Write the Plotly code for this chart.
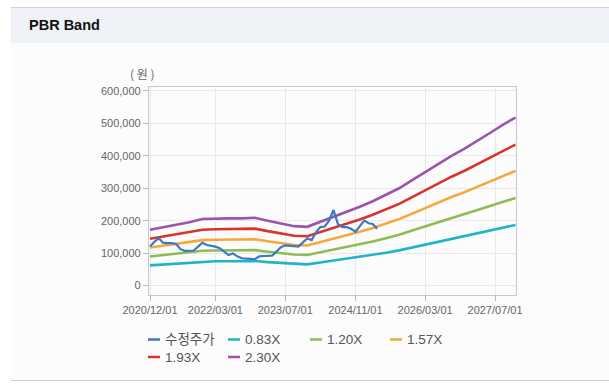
import plotly.graph_objects as go
import pandas as pd

# ---------------- data ----------------
band_dates = [
    "2020-12-01", "2021-03-01", "2021-06-01", "2021-09-01", "2021-12-01",
    "2022-03-01", "2022-06-01", "2022-09-01", "2022-12-01",
    "2023-03-01", "2023-06-01", "2023-09-01", "2023-12-01",
    "2024-03-01", "2024-06-01", "2024-09-01", "2024-12-01",
    "2025-03-01", "2025-06-01", "2025-09-01", "2025-12-01",
    "2026-03-01", "2026-06-01", "2026-09-01", "2026-12-01",
    "2027-03-01", "2027-06-01", "2027-09-01", "2027-11-20",
]
band_083 = [62100, 65000, 67100, 70400, 74000, 74700, 74700, 74700, 75400, 72200, 69300, 66000, 65300,
            70700, 76500, 82300, 87700, 93800, 101000, 108300, 117300, 126300, 135300, 144400, 152300,
            161000, 170300, 179700, 186900]
band_120 = [89700, 93900, 97000, 101700, 107000, 108000, 108000, 108000, 109000, 104300, 100200, 95500, 94400,
            102300, 110600, 118900, 126800, 135600, 146100, 156500, 169600, 182600, 195600, 208700, 220200,
            232700, 246200, 259800, 270200]
band_157 = [117400, 122900, 127000, 133100, 139900, 141300, 141300, 141300, 142700, 136500, 131100, 124900, 123600,
            133800, 144700, 155600, 165900, 177500, 191100, 204800, 221800, 238900, 256000, 273000, 288100,
            304400, 322200, 339900, 353600]
band_193 = [144300, 151000, 156100, 163600, 172000, 173700, 173700, 173700, 175400, 167800, 161100, 153600, 151900,
            164500, 177900, 191300, 203900, 218200, 234900, 251700, 272700, 293700, 314700, 335600, 354100,
            374200, 396100, 417900, 434700]
band_230 = [172000, 180000, 186000, 195000, 205000, 207000, 207000, 207000, 209000, 200000, 192000, 183000, 181000,
            196000, 212000, 228000, 243000, 260000, 280000, 300000, 325000, 350000, 375000, 400000, 422000,
            446000, 472000, 498000, 518000]

price = [120000, 135000, 146000, 132000, 131000, 131000, 128000, 112000, 107000, 107000, 108000, 120000,
         132000, 125000, 123000, 120000, 115000, 106000, 94000, 99000, 90000, 84000, 82000, 82000,
         81000, 90000, 91000, 91000, 92000, 105000, 118000, 124000, 122000, 120000, 120000, 133000,
         145000, 140000, 165000, 180000, 182000, 200000, 233000, 190000, 180000, 180000, 175000, 166000,
         182000, 200000, 192000, 190000, 175000]
price_dates = pd.date_range("2020-12-01", periods=len(price), freq="MS")

x_tick_vals = ["2020-12-01", "2022-03-01", "2023-07-01", "2024-11-01", "2026-03-01", "2027-07-01"]
x_tick_text = ["2020/12/01", "2022/03/01", "2023/07/01", "2024/11/01", "2026/03/01", "2027/07/01"]
y_tick_vals = [0, 100000, 200000, 300000, 400000, 500000, 600000]

series_names = ["수정주가", "0.83X", "1.20X", "1.57X", "1.93X", "2.30X"]
colors = ["#3b78c6", "#1fb3cc", "#8cbc55", "#f5a73a", "#d8342a", "#9a54ad"]

# ---------------- figure ----------------
W, H = 609, 390
L, R, T, B = 149, 516, 87, 295

def px(x):
    return (x - L) / (R - L)

def py(y):
    return (B - y) / (B - T)

fig = go.Figure()
bands = [band_083, band_120, band_157, band_193, band_230]
for i, vals in enumerate(bands):
    fig.add_trace(go.Scatter(x=band_dates, y=vals, mode="lines", name=series_names[i + 1],
                             line=dict(color=colors[i + 1], width=2.6), hoverinfo="skip"))
fig.add_trace(go.Scatter(x=price_dates, y=price, mode="lines", name=series_names[0],
                         line=dict(color=colors[0], width=2.2)))

shapes = [
    dict(type="rect", xref="paper", yref="paper", x0=px(11), x1=px(609), y0=py(43), y1=py(380),
         fillcolor="#fcfcfc", line=dict(width=0), layer="below"),
    dict(type="rect", xref="paper", yref="paper", x0=px(11), x1=px(609), y0=py(8), y1=py(43),
         fillcolor="#eef2f7", line=dict(width=0), layer="below"),
    dict(type="line", xref="paper", yref="paper", x0=px(11), x1=px(609), y0=py(7.5), y1=py(7.5),
         line=dict(color="#d2d2d2", width=1.2), layer="below"),
    dict(type="line", xref="paper", yref="paper", x0=px(11), x1=px(609), y0=py(380.5), y1=py(380.5),
         line=dict(color="#d2d2d2", width=1.2), layer="below"),
]

annotations = [
    dict(text="<b>PBR Band</b>", xref="paper", yref="paper", x=px(27), y=py(25),
         xanchor="left", yanchor="middle", showarrow=False,
         font=dict(family="Liberation Sans, Arial", size=14.5, color="#111111")),
    dict(text="( 원 )", xref="paper", yref="paper", x=px(142), y=py(73),
         xanchor="center", yanchor="middle", showarrow=False,
         font=dict(family="Noto Sans CJK KR", size=12, color="#666666")),
]

# legend (manual, two rows)
legend_pos = [(148, 339.5), (228, 339.5), (310, 339.5), (390, 339.5), (148, 357), (228, 357)]
for i, name in enumerate(series_names):
    lx, ly = legend_pos[i]
    shapes.append(dict(type="line", xref="paper", yref="paper", x0=px(lx), x1=px(lx + 12),
                       y0=py(ly), y1=py(ly), line=dict(color=colors[i], width=2.5)))
    annotations.append(dict(text=name, xref="paper", yref="paper", x=px(lx + 15), y=py(ly),
                            xanchor="left", yanchor="middle", showarrow=False,
                            font=dict(family="Liberation Sans, Noto Sans CJK KR", size=13.5, color="#555555")))

fig.update_layout(
    width=W, height=H,
    margin=dict(l=L, r=W - R, t=T, b=H - B, pad=0),
    paper_bgcolor="#ffffff", plot_bgcolor="#ffffff",
    showlegend=False,
    shapes=shapes, annotations=annotations,
    xaxis=dict(type="date", range=["2020-11-24", "2027-11-24"],
               tickvals=x_tick_vals, ticktext=x_tick_text,
               showgrid=True, gridcolor="#e8e8e8", gridwidth=1,
               showline=True, linecolor="#c8c8c8", linewidth=1.2, mirror=True,
               ticks="outside", ticklen=5, tickcolor="#bbbbbb",
               tickfont=dict(family="Liberation Sans, Arial", size=11, color="#666666"),
               zeroline=False, fixedrange=True),
    yaxis=dict(range=[-29300, 612300], tickvals=y_tick_vals, tickformat=",d",
               showgrid=True, gridcolor="#e8e8e8", gridwidth=1,
               showline=True, linecolor="#c8c8c8", linewidth=1.2, mirror=True,
               ticks="outside", ticklen=5, tickcolor="#bbbbbb",
               tickfont=dict(family="Liberation Sans, Arial", size=11, color="#666666"),
               zeroline=False, fixedrange=True),
)

fig.write_html("out.html", config={"displayModeBar": False},
               post_script="document.body.style.margin='0';document.body.style.overflow='hidden';")
